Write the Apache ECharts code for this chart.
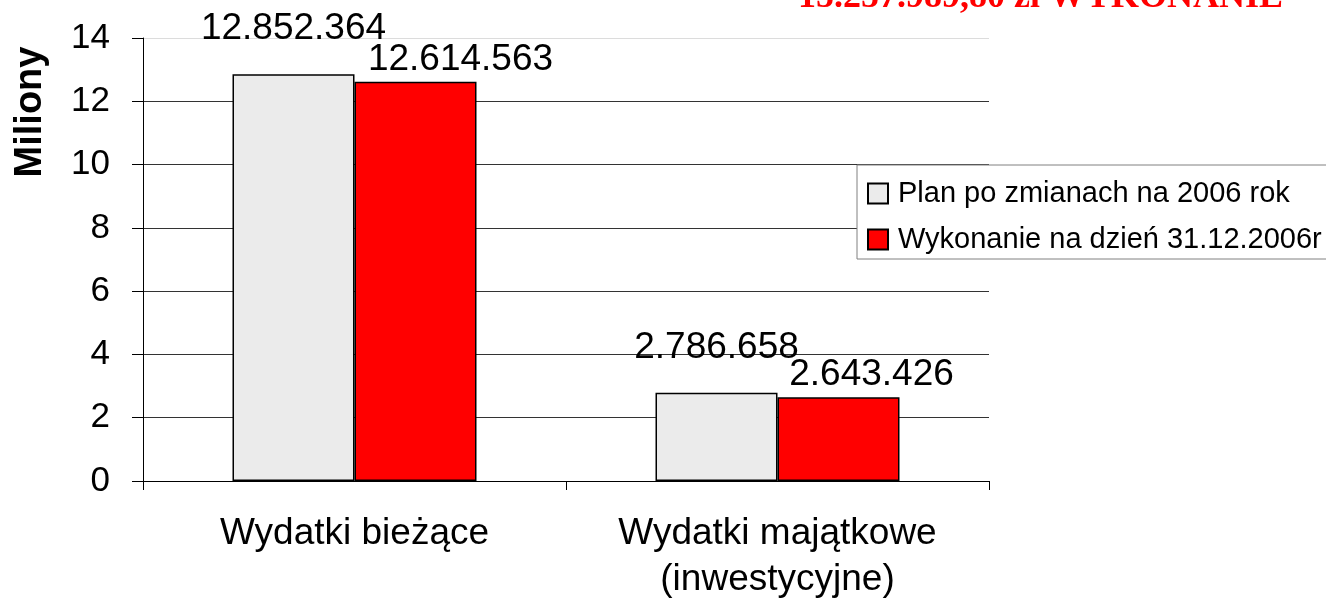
<!DOCTYPE html>
<html>
<head>
<meta charset="utf-8">
<script src="https://cdn.jsdelivr.net/npm/echarts@6/dist/echarts.min.js"></script>
<style>
  html, body { margin: 0; padding: 0; background: #fff; }
  #chart { width: 1326px; height: 603px; }
</style>
</head>
<body>
<div id="chart"></div>
<script>
// values in millions of zł
const categories = ["Wydatki bieżące", "Wydatki majątkowe\n(inwestycyjne)"];
const seriesNames = ["Plan po zmianach na 2006 rok", "Wykonanie na dzień 31.12.2006r"];
const planValues = [12.852364, 2.786658];
const wykonanieValues = [12.614563, 2.643426];
const yTicks = [0, 2, 4, 6, 8, 10, 12, 14];
const headerText = "15.257.989,80 zł WYKONANIE";

const font = "'Liberation Sans', Arial, sans-serif";

// label for the red bars sits off to the right in the original
const redLabelShift = [45, 33];

function fmt(v) {
  return Math.round(v * 1e6).toString().replace(/\B(?=(\d{3})+(?!\d))/g, ".");
}

const chart = echarts.init(document.getElementById("chart"));

chart.setOption({
  animation: false,
  backgroundColor: "#fff",
  grid: { left: 143, right: 337, top: 38, bottom: 122 },
  legend: {
    orient: "vertical",
    left: 857,
    top: 165,
    padding: [14, 60, 5, 10],
    itemGap: 17,
    itemWidth: 20,
    itemHeight: 20,
    backgroundColor: "#fff",
    borderColor: "#808080",
    borderWidth: 1,
    borderRadius: 0,
    icon: "rect",
    textStyle: { fontFamily: font, fontSize: 29, color: "#000", padding: [0, 0, 0, 5] },
    data: seriesNames,
  },
  xAxis: {
    type: "category",
    data: categories,
    axisLine: { lineStyle: { color: "#000", width: 1 } },
    axisTick: { show: true, length: 9, lineStyle: { color: "#000" } },
    axisLabel: { fontFamily: font, fontSize: 37, color: "#000", lineHeight: 46, margin: 30 },
  },
  yAxis: {
    type: "value",
    min: yTicks[0],
    max: yTicks[yTicks.length - 1],
    interval: 2,
    axisLine: { show: true, lineStyle: { color: "#000", width: 1 } },
    axisTick: { show: true, length: 11, lineStyle: { color: "#000" } },
    axisLabel: { fontFamily: font, fontSize: 35, color: "#000", margin: 33 },
    splitLine: {
      show: true,
      lineStyle: {
        color: ["#333", "#333", "#333", "#333", "#333", "#333", "#333", "#dcdcdc"],
        width: 1,
      },
    },
  },
  graphic: [
    {
      type: "text",
      x: 31,
      y: 112,
      rotation: Math.PI / 2,
      style: {
        text: "Miliony",
        font: "bold 38px " + font,
        fill: "#000",
        align: "center",
        verticalAlign: "middle",
      },
    },
    {
      type: "text",
      left: 798,
      top: -20,
      style: {
        text: headerText,
        font: "bold 36px 'Liberation Serif', 'Times New Roman', serif",
        fill: "#ff0000",
      },
    },
  ],
  series: [
    {
      name: seriesNames[0],
      type: "bar",
      barWidth: 122,
      barGap: "0%",
      data: planValues,
      itemStyle: { color: "#ebebeb", borderColor: "#000", borderWidth: 1.5 },
      label: {
        show: true,
        position: "top",
        distance: 27,
        fontFamily: font,
        fontSize: 37,
        color: "#000",
        formatter: (p) => fmt(p.value),
      },
    },
    {
      name: seriesNames[1],
      type: "bar",
      barWidth: 122,
      barGap: "0%",
      data: wykonanieValues.map((v, i) => ({ value: v, label: { offset: [redLabelShift[i], 0] } })),
      itemStyle: { color: "#ff0000", borderColor: "#000", borderWidth: 1.5 },
      label: {
        show: true,
        position: "top",
        distance: 4,
        fontFamily: font,
        fontSize: 37,
        color: "#000",
        formatter: (p) => fmt(p.value),
      },
    },
  ],
});
</script>
</body>
</html>
